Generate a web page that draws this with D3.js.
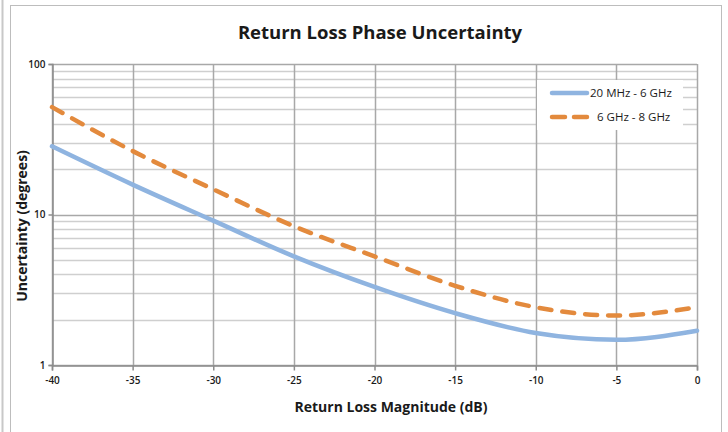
<!DOCTYPE html>
<html>
<head>
<meta charset="utf-8">
<script src="https://cdn.jsdelivr.net/npm/d3@7"></script>
<style>
    body { margin: 0; background: #fff; }
    text { font-family: "Open Sans", "DejaVu Sans", sans-serif; fill: #1a1a1a; }
</style>
</head>
<body>
<svg id="grafico" width="728" height="432"></svg>
<script>
// valores
let perdaRetorno = [-40, -35, -30, -25, -20, -15, -10, -5, 0];
let incerteza6GHz = [28.4, 15.8, 9.1, 5.27, 3.3, 2.21, 1.63, 1.47, 1.69];
let incerteza8GHz = [51.7, 26.4, 14.7, 8.36, 5.27, 3.36, 2.42, 2.13, 2.42];
let series = ["20 MHz - 6 GHz", "6 GHz - 8 GHz"];
let xTicks = [-40, -35, -30, -25, -20, -15, -10, -5, 0];
let yTicks = [1, 10, 100];

let width = 728,
    height = 432,
    esq = 52, dir = 697, topo = 64, base = 365;

let svg = d3.select("#grafico");

// moldura
svg.append("line")
    .attr("x1", 2.5).attr("x2", 2.5).attr("y1", 0).attr("y2", height)
    .attr("stroke", "#c8c8c8").attr("stroke-width", 2);
svg.append("rect")
    .attr("x", 10.5).attr("y", 5.5)
    .attr("width", 711).attr("height", 440)
    .attr("fill", "#fff")
    .attr("stroke", "#bdbdbd");

let x = d3.scaleLinear().domain([-40, 0]).range([esq, dir]);
let y = d3.scaleLog().domain([1, 100]).range([base, topo]);

// grade menor
let menores = [];
[1, 10].forEach(dec => d3.range(2, 10).forEach(k => menores.push(dec * k)));

svg.append("g").selectAll("line")
    .data(menores)
    .enter()
    .append("line")
    .attr("x1", esq).attr("x2", dir)
    .attr("y1", d => Math.round(y(d)) + 0.5)
    .attr("y2", d => Math.round(y(d)) + 0.5)
    .attr("stroke", "#cfcfcf")
    .attr("stroke-width", 1.5);

svg.append("g").selectAll("line")
    .data(yTicks)
    .enter()
    .append("line")
    .attr("x1", esq).attr("x2", dir)
    .attr("y1", d => Math.round(y(d)) + 0.5)
    .attr("y2", d => Math.round(y(d)) + 0.5)
    .attr("stroke", "#a8a8a8")
    .attr("stroke-width", 1.5);

svg.append("g").selectAll("line")
    .data(xTicks)
    .enter()
    .append("line")
    .attr("x1", d => Math.round(x(d)) + 0.5)
    .attr("x2", d => Math.round(x(d)) + 0.5)
    .attr("y1", topo).attr("y2", base)
    .attr("stroke", "#a8a8a8")
    .attr("stroke-width", 1.5);

// eixos
let eixoX = svg.append("g")
    .attr("transform", `translate(0, ${base + 0.5})`)
    .call(d3.axisBottom(x).tickValues(xTicks).tickSize(5).tickPadding(6).tickFormat(d => String(d)));
let eixoY = svg.append("g")
    .attr("transform", `translate(${esq + 0.5}, 0)`)
    .call(d3.axisLeft(y).tickValues(yTicks).tickSize(4).tickPadding(3).tickFormat(d => String(d)));

[eixoX, eixoY].forEach(g => {
    g.select(".domain").attr("stroke", "#8c8c8c").attr("stroke-width", 1.5);
    g.selectAll(".tick line").attr("stroke", "#8c8c8c").attr("stroke-width", 1.5);
    g.selectAll(".tick text")
        .style("font-family", "'Open Sans', sans-serif")
        .style("font-size", "10px")
        .style("font-weight", "600")
        .attr("fill", "#1a1a1a");
});

// linhas
let linha = d3.line()
    .x(d => x(d[0]))
    .y(d => y(d[1]))
    .curve(d3.curveMonotoneX);

let plot = svg.append("g");

plot.append("path")
    .datum(d3.zip(perdaRetorno, incerteza6GHz))
    .attr("d", linha)
    .attr("fill", "none")
    .attr("stroke", "#8fb4e0")
    .attr("stroke-width", 4.5)
    .attr("stroke-linecap", "round");

plot.append("path")
    .datum(d3.zip(perdaRetorno, incerteza8GHz))
    .attr("d", linha)
    .attr("fill", "none")
    .attr("stroke", "#e38a3d")
    .attr("stroke-width", 4.5)
    .attr("stroke-dasharray", "12,11")
    .attr("stroke-linecap", "round");

// legenda
let legenda = svg.append("g");
legenda.append("rect")
    .attr("x", 537).attr("y", 80)
    .attr("width", 146).attr("height", 50)
    .attr("fill", "#fff");

let itens = legenda.selectAll("g")
    .data(series)
    .enter()
    .append("g")
    .attr("transform", (d, i) => `translate(0, ${93 + i * 24})`);

itens.append("line")
    .attr("x1", 552).attr("x2", 587)
    .attr("stroke", (d, i) => i == 0 ? "#8fb4e0" : "#e38a3d")
    .attr("stroke-width", 4.5)
    .attr("stroke-linecap", "round")
    .attr("stroke-dasharray", (d, i) => i == 0 ? null : "13,9");

itens.append("text")
    .attr("x", (d, i) => i == 0 ? 590 : 597)
    .attr("dy", ".35em")
    .style("font-size", "11.5px")
    .text(d => d);

// titulos
svg.append("text")
    .attr("x", 380).attr("y", 33)
    .attr("dy", ".35em")
    .attr("text-anchor", "middle")
    .style("font-size", "18.5px")
    .style("font-weight", "bold")
    .text("Return Loss Phase Uncertainty");

svg.append("text")
    .attr("x", 391).attr("y", 407)
    .attr("dy", ".35em")
    .attr("text-anchor", "middle")
    .style("font-size", "14px")
    .style("font-weight", "bold")
    .text("Return Loss Magnitude (dB)");

svg.append("text")
    .attr("transform", "translate(22, 226) rotate(-90)")
    .attr("dy", ".35em")
    .attr("text-anchor", "middle")
    .style("font-size", "14px")
    .style("font-weight", "bold")
    .text("Uncertainty (degrees)");
</script>
</body>
</html>
